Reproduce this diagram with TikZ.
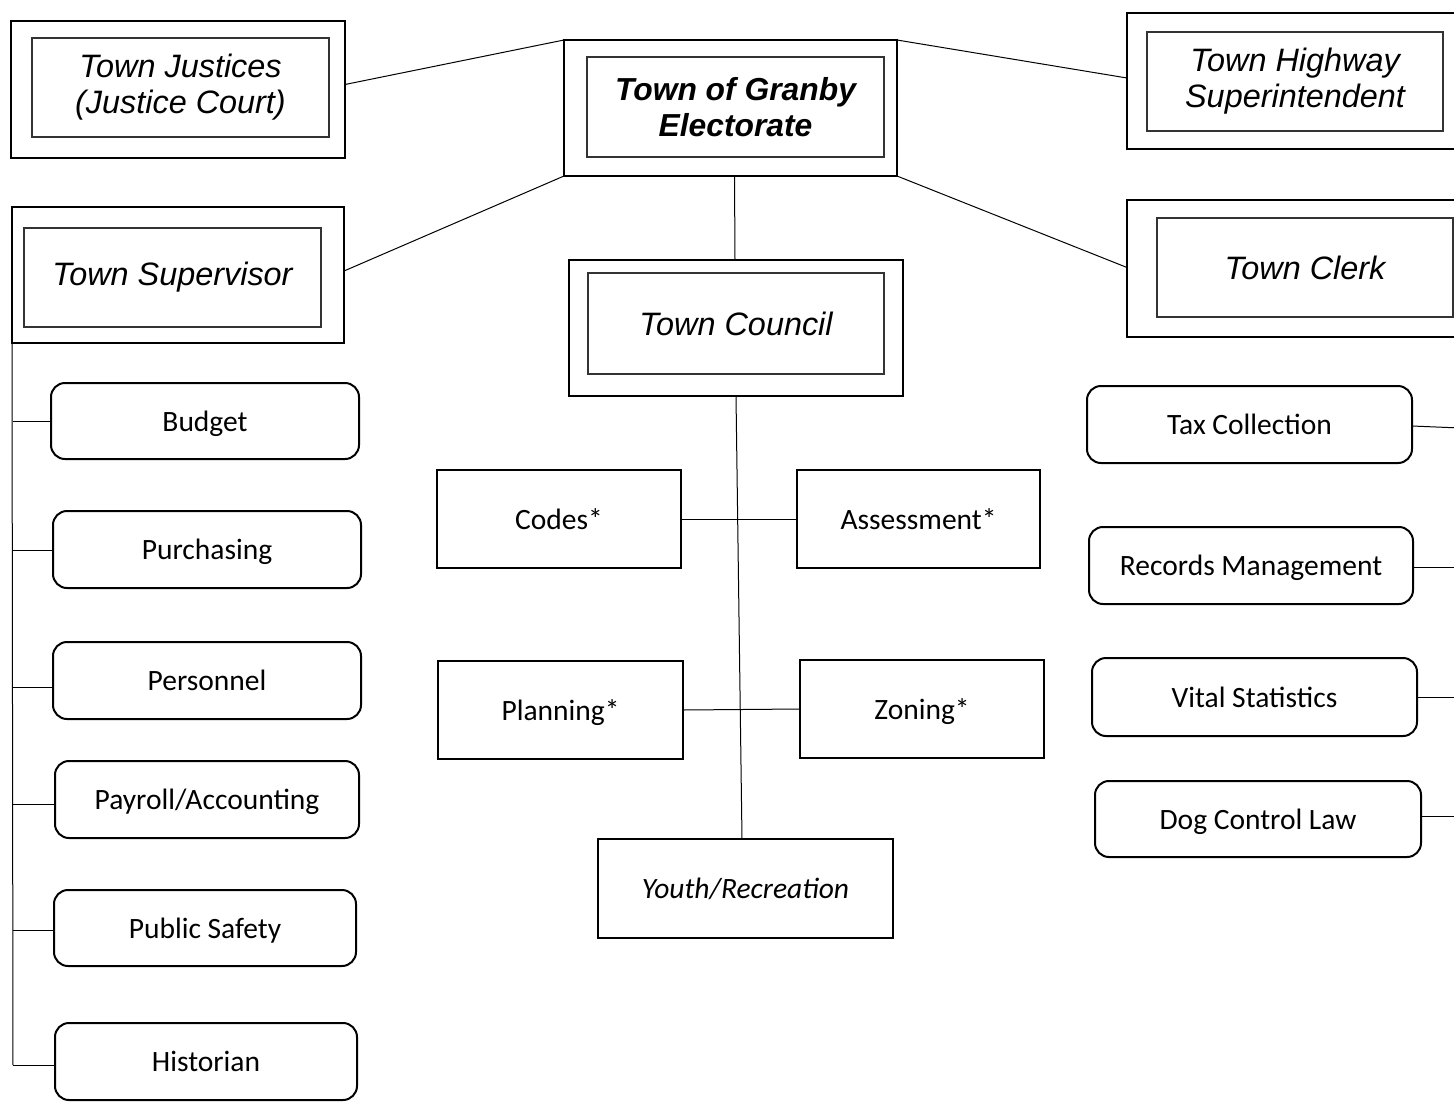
\documentclass[tikz,border=0pt]{standalone}
\usepackage{fontspec}
\setmainfont{Carlito}
\newfontfamily\arialf{Liberation Sans}
\usetikzlibrary{calc}
\tikzset{
  outerbox/.style={draw=black, line width=2.7pt, inner sep=0pt, outer sep=0pt},
  innerbox/.style={draw=black!80, line width=1.1pt, inner sep=0pt, outer sep=0pt, align=center,
     font=\arialf\itshape\fontsize{32.4}{36}\selectfont},
  roundbox/.style={draw=black, line width=2pt, rounded corners=14pt, inner sep=0pt, outer sep=0pt,
     text height=24pt, text depth=4pt, font=\fontsize{29.5}{33}\selectfont},
  plainbox/.style={draw=black, line width=1.2pt, inner sep=0pt, outer sep=0pt,
     text height=24pt, text depth=4pt, font=\fontsize{29.5}{33}\selectfont},
  conn/.style={draw=black, line width=1pt},
}
\begin{document}
\begin{tikzpicture}[x=1pt,y=-1pt]
\useasboundingbox (0,0) rectangle (1454,1101);
\fill[white] (0,0) rectangle (1454,1101);
\clip (0,0) rectangle (1454,1101);

% double boxes
\node[outerbox, minimum width=334pt, minimum height=137pt] (justO) at (178,89.5) {};
\node[innerbox, minimum width=297pt, minimum height=99pt] (justI) at (180.5,87.5) {Town Justices\\(Justice Court)};

\node[outerbox, minimum width=333pt, minimum height=136pt] (electO) at (730.5,108) {};
\node[innerbox, minimum width=297pt, minimum height=100pt, font=\arialf\bfseries\itshape\fontsize{31.8}{36}\selectfont] (electI) at (735.5,107) {Town of Granby\\Electorate};

\node[outerbox, minimum width=348pt, minimum height=136pt] (hwyO) at (1301,81) {};
\node[innerbox, minimum width=296pt, minimum height=99pt] (hwyI) at (1295,81.5) {Town Highway\\Superintendent};

\node[outerbox, minimum width=348pt, minimum height=137pt] (clerkO) at (1301,268.5) {};
\node[innerbox, minimum width=296pt, minimum height=99pt] (clerkI) at (1305,267.5) {Town Clerk};

\node[outerbox, minimum width=332pt, minimum height=136pt] (supO) at (178,275) {};
\node[innerbox, minimum width=297pt, minimum height=99pt] (supI) at (172.5,277.5) {Town Supervisor};

\node[outerbox, minimum width=334pt, minimum height=136pt] (councilO) at (736,328) {};
\node[innerbox, minimum width=296pt, minimum height=101pt] (councilI) at (736,323.5) {Town Council};

% supervisor departments
\node[roundbox, minimum width=308pt, minimum height=76pt] (budget) at (205,421) {Budget};
\node[roundbox, minimum width=308pt, minimum height=77pt] (purch) at (207,549.5) {Purchasing};
\node[roundbox, minimum width=308pt, minimum height=77pt] (pers) at (207,680.5) {Personnel};
\node[roundbox, minimum width=304pt, minimum height=77pt] (pay) at (207,799.5) {Payroll/Accounting};
\node[roundbox, minimum width=302pt, minimum height=76pt] (safety) at (205,928) {Public Safety};
\node[roundbox, minimum width=302pt, minimum height=77pt] (hist) at (206,1061.5) {Historian};

% clerk departments
\node[roundbox, minimum width=325pt, minimum height=77pt] (tax) at (1249.5,424.5) {Tax Collection};
\node[roundbox, minimum width=324pt, minimum height=77pt] (rec) at (1251,565.5) {Records Management};
\node[roundbox, minimum width=325pt, minimum height=78pt] (vital) at (1254.5,697) {Vital Statistics};
\node[roundbox, minimum width=326pt, minimum height=76pt] (dog) at (1258,819) {Dog Control Law};

% council departments
\node[plainbox, minimum width=244pt, minimum height=98pt] (codes) at (559,519) {Codes*};
\node[plainbox, minimum width=243pt, minimum height=98pt] (assess) at (918.5,519) {Assessment*};
\node[plainbox, minimum width=245pt, minimum height=98pt] (plan) at (560.5,710) {Planning*};
\node[plainbox, minimum width=244pt, minimum height=98pt] (zoning) at (922,709) {Zoning*};
\node[plainbox, minimum width=295pt, minimum height=99pt, font=\itshape\fontsize{29.5}{33}\selectfont] (youth) at (745.5,888.5) {Youth/Recreation};

% connectors from electorate
\draw[conn] (electO.north west) -- ($(justO.east)+(0,-5)$);
\draw[conn] (electO.north east) -- ($(hwyO.west)+(0,-3)$);
\draw[conn] (electO.south west) -- ($(supO.east)+(0,-4)$);
\draw[conn] (electO.south east) -- ($(clerkO.west)+(0,-1)$);
\draw[conn] ($(electO.south)+(4,0)$) -- ($(councilO.north)+(-1,0)$);

% council trunk
\draw[conn] (councilO.south) -- ($(youth.north)+(-3.5,0)$);
\draw[conn] (codes.east) -- (assess.west);
\draw[conn] (plan.east) -- (zoning.west);

% supervisor bus
\coordinate (busEnd) at (13,1065);
\draw[conn] (supO.south west) -- (busEnd);
\draw[conn] (12.5,421) -- (budget.west);
\draw[conn] (12.5,550) -- (purch.west |- 0,550);
\draw[conn] (12.5,687) -- (pers.west |- 0,687);
\draw[conn] (12.5,804) -- (pay.west |- 0,804);
\draw[conn] (12.5,930) -- (safety.west |- 0,930);
\draw[conn] (busEnd) -- (hist.west |- 0,1065);

% clerk branches (run off the right edge)
\coordinate (rtax) at (1460,428);
\coordinate (rrec) at (1460,567);
\coordinate (rvital) at (1460,697);
\coordinate (rdog) at (1460,816);
\draw[conn] (tax.east |- 0,426) -- (rtax);
\draw[conn] (rec.east |- 0,567) -- (rrec);
\draw[conn] (vital.east) -- (rvital);
\draw[conn] (dog.east |- 0,816) -- (rdog);
\end{tikzpicture}
\end{document}
